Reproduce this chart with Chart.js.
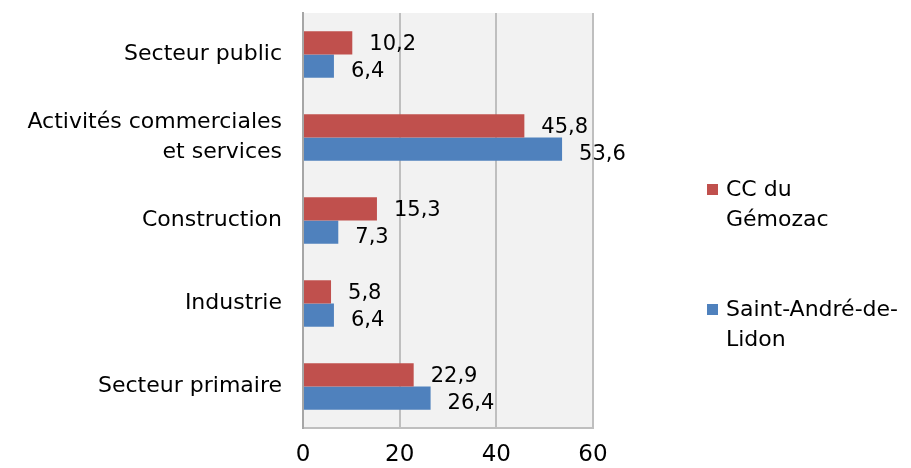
<!DOCTYPE html>
<html>
<head>
<meta charset="utf-8">
<script src="https://cdn.jsdelivr.net/npm/chart.js@4/dist/chart.umd.min.js"></script>
<style>
  html, body { margin: 0; padding: 0; background: #fff; }
  #wrap { position: relative; width: 911px; height: 468px; }
  #legend { position: absolute; left: 707px; top: 174px; font-family: "DejaVu Sans", sans-serif; font-size: 22px; color: #000; line-height: 30px; }
  .item { position: relative; padding-left: 19px; }
  .sw { position: absolute; left: 0; top: 10px; width: 11px; height: 11px; }
</style>
</head>
<body>
<div id="wrap">
  <canvas id="chart" width="911" height="468"></canvas>
  <div id="legend">
    <div class="item" style="margin-bottom:60px"><span class="sw" style="background:#C0504D"></span>CC du<br>Gémozac</div>
    <div class="item"><span class="sw" style="background:#4F81BD"></span>Saint-André-de-<br>Lidon</div>
  </div>
</div>
<script>
// catégories et valeurs (%)
const categories = ['Secteur public', ['Activités commerciales', 'et services'], 'Construction', 'Industrie', 'Secteur primaire'];
const gemozac = [10.2, 45.8, 15.3, 5.8, 22.9];
const saintAndre = [6.4, 53.6, 7.3, 6.4, 26.4];
const xTicks = [0, 20, 40, 60];

const fontFamily = '"DejaVu Sans", sans-serif';

// fond gris de la zone de tracé
const plotBg = {
    id: 'plotBg',
    beforeDraw(chart) {
        const a = chart.chartArea;
        const ctx = chart.ctx;
        ctx.save();
        ctx.fillStyle = '#F2F2F2';
        ctx.fillRect(a.left, a.top, a.right - a.left, a.bottom - a.top);
        ctx.restore();
    }
};

// étiquettes de valeurs à droite des barres
const valueLabels = {
    id: 'valueLabels',
    afterDatasetsDraw(chart) {
        const ctx = chart.ctx;
        ctx.save();
        ctx.font = '21px ' + fontFamily;
        ctx.fillStyle = '#000';
        ctx.textAlign = 'left';
        ctx.textBaseline = 'middle';
        chart.data.datasets.forEach((ds, i) => {
            chart.getDatasetMeta(i).data.forEach((bar, j) => {
                const txt = ds.data[j].toFixed(1).replace('.', ',');
                ctx.fillText(txt, bar.x + 17, bar.y + (i === 0 ? 2 : 5));
            });
        });
        ctx.restore();
    }
};

new Chart(document.getElementById('chart'), {
    type: 'bar',
    data: {
        labels: categories,
        datasets: [
            { label: 'CC du Gémozac', data: gemozac, backgroundColor: '#C0504D', borderWidth: 0 },
            { label: 'Saint-André-de-Lidon', data: saintAndre, backgroundColor: '#4F81BD', borderWidth: 0 }
        ]
    },
    options: {
        indexAxis: 'y',
        responsive: false,
        animation: false,
        layout: { padding: { top: 13, right: 318, bottom: 0, left: 0 } },
        datasets: { bar: { barPercentage: 1, categoryPercentage: 0.56 } },
        plugins: {
            legend: { display: false },
            tooltip: { enabled: false }
        },
        scales: {
            x: {
                min: 0,
                max: 60,
                afterBuildTicks(axis) { axis.ticks = xTicks.map(v => ({ value: v })); },
                afterFit(axis) { axis.height = 40; axis.paddingLeft = 0; axis.paddingRight = 0; },
                grid: { color: '#BFBFBF', lineWidth: 2, drawTicks: false },
                border: { color: '#BFBFBF', width: 2 },
                ticks: { color: '#000', padding: 13, font: { family: fontFamily, size: 23 } }
            },
            y: {
                afterFit(axis) { axis.width = 303; axis.paddingTop = 0; axis.paddingBottom = 0; },
                grid: { display: false, drawTicks: false },
                border: { color: '#A6A6A6', width: 2 },
                ticks: { color: '#000', padding: 21, font: { family: fontFamily, size: 22, lineHeight: 1.35 } }
            }
        }
    },
    plugins: [plotBg, valueLabels]
});
</script>
</body>
</html>
